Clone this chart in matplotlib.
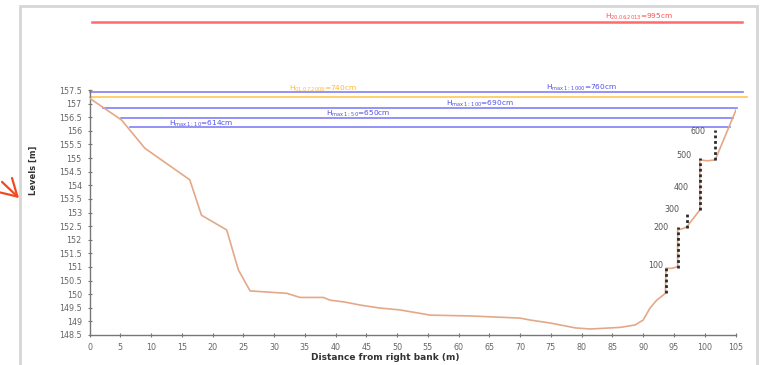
import matplotlib
matplotlib.use("Agg")
import matplotlib.pyplot as plt
from matplotlib.patches import Rectangle

# ---- data ----
profile_x = [0, 5.2, 9.0, 16.3, 18.2, 22.3, 24.2, 26.1, 32.1, 34.2, 38.0, 39.1,
             41.5, 44.0, 47.2, 50.5, 55.4, 61.9, 70.0, 71.6, 74.9, 79.0, 81.4,
             86.3, 88.7, 90.0, 91.1, 92.2, 93.6, 93.7, 94.7, 95.6, 95.6, 96.6,
             97.1, 99.2, 99.2, 100.4, 101.7, 105.2]
profile_y = [157.2, 156.4, 155.36, 154.2, 152.9, 152.36, 150.89, 150.12, 150.03,
             149.88, 149.88, 149.78, 149.71, 149.6, 149.49, 149.42, 149.23, 149.2,
             149.12, 149.05, 148.94, 148.76, 148.72, 148.78, 148.87, 149.05,
             149.49, 149.78, 150.03, 150.95, 150.95, 151.01, 152.36, 152.42,
             152.48, 153.09, 154.93, 154.9, 154.93, 156.83]

level_labels = ["$\\mathregular{H_{max\\,1:1000}}$=760cm",
                "$\\mathregular{H_{01.07.2008}}$=740cm",
                "$\\mathregular{H_{max\\,1:100}}$=690cm",
                "$\\mathregular{H_{max\\,1:50}}$=650cm",
                "$\\mathregular{H_{max\\,1:10}}$=614cm",
                "$\\mathregular{H_{20.06.2013}}$=995cm"]
level_values = [157.42, 157.25, 156.83, 156.46, 156.15, 160.0]
level_start = [0.0, 0.0, 2.2, 5.2, 6.6, 0.4]
level_end = [106.2, 106.8, 105.2, 104.6, 104.1, 106.1]
level_label_x = [80.0, 38.0, 63.5, 43.6, 18.2, 89.3]
level_colors = ["#8080F8", "#FFC850", "#8080F8", "#8080F8", "#8080F8", "#FF6A6A"]
label_colors = ["#5050E8", "#FFB830", "#5050E8", "#5050E8", "#5050E8", "#FF5050"]

gauge_x = [93.7, 95.6, 97.1, 99.2, 101.7]
gauge_bottom = [150.03, 150.95, 152.42, 153.09, 154.93]
gauge_top = [151.0, 152.48, 153.0, 154.99, 156.03]

gauge_label_text = ["100", "200", "300", "400", "500", "600"]
gauge_label_x = [92.0, 92.8, 94.6, 96.2, 96.6, 98.9]
gauge_label_y = [151.05, 152.46, 153.12, 153.93, 155.1, 155.97]

xticks = list(range(0, 106, 5))
yticks = [148.5 + 0.5 * i for i in range(19)]

# ---- figure ----
fig = plt.figure(figsize=(7.6, 3.65), dpi=100)
ax = fig.add_axes([89.5 / 760, 30 / 365, 646 / 760, 245 / 365])

ax.plot(profile_x, profile_y, color="#E4A888", lw=1.2, zorder=3)

for v, s, e, c in zip(level_values, level_start, level_end, level_colors):
    ax.plot([s, e], [v, v], color=c, lw=1.2 if c != "#FF6A6A" else 1.8,
            clip_on=False, zorder=2)

offs = [0.14, 0.3, 0.17, 0.15, 0.1, 0.2]
for t, v, lx, c, o in zip(level_labels, level_values, level_label_x, label_colors, offs):
    ax.text(lx, v + o, t, color=c, fontsize=5.3, ha="center", va="center",
            clip_on=False, zorder=4)

for gx, gb, gt in zip(gauge_x, gauge_bottom, gauge_top):
    ax.plot([gx, gx], [gb, gt], color="#2a2a2a", lw=2.0,
            linestyle=(0, (1, 1)), zorder=5)

for t, gx, gy in zip(gauge_label_text, gauge_label_x, gauge_label_y):
    ax.text(gx, gy, t, fontsize=5.8, color="#555555", ha="center", va="center",
            zorder=6)

ax.set_xlim(0, 105)
ax.set_ylim(148.5, 157.5)
ax.set_xticks(xticks)
ax.set_yticks(yticks)
ax.set_xticklabels([str(x) for x in xticks])
ax.set_yticklabels([("%g" % y) for y in yticks])
ax.tick_params(axis="both", direction="inout", length=3, width=0.8,
               color="#777777", labelsize=5.8, labelcolor="#666666", pad=4)
for sp in ["top", "right"]:
    ax.spines[sp].set_visible(False)
for sp in ["left", "bottom"]:
    ax.spines[sp].set_color("#777777")
    ax.spines[sp].set_linewidth(1.0)

fig.text(33 / 760, 1 - 170 / 365, "Levels [m]", rotation=90, fontsize=6,
         fontweight="bold", color="#333333", ha="center", va="center")
fig.text(385 / 760, 1 - 358 / 365, "Distance from right bank (m)", fontsize=6.5,
         fontweight="bold", color="#333333", ha="center", va="center")

# chart frame
fig.add_artist(Rectangle((20 / 760, -0.1), 737 / 760, 1 - 6 / 365 + 0.1,
                         transform=fig.transFigure, fill=False,
                         edgecolor="#D6D6D6", lw=2))

# red arrow at the left
ax.annotate("", xy=(21, 365 - 200), xycoords="figure pixels",
            xytext=(0, 365 - 180), textcoords="figure pixels",
            arrowprops=dict(arrowstyle="->,head_length=1.2,head_width=0.7",
                            color="#F04A20", lw=1.6))

fig.savefig("out.png", dpi=100)
